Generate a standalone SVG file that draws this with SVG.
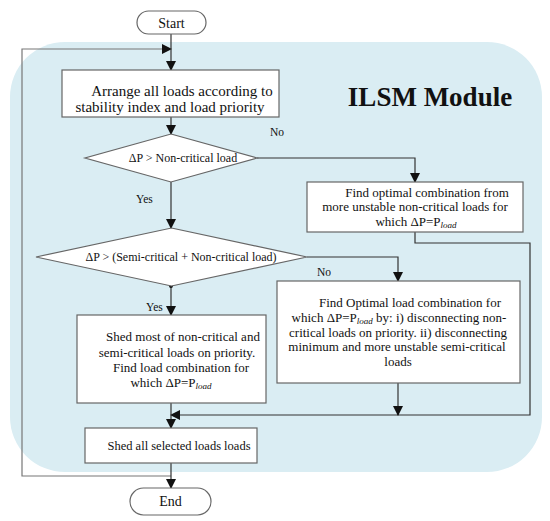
<svg xmlns="http://www.w3.org/2000/svg" width="550" height="521" viewBox="0 0 550 521">
<defs>
<marker id="ah" markerWidth="10" markerHeight="10" refX="9" refY="5" orient="auto" markerUnits="userSpaceOnUse">
<path d="M0,0 L10,5 L0,10 Z" fill="#111"/>
</marker>
<style>
.t{font-family:"Liberation Serif","Times New Roman",serif;fill:#111}
.box{fill:#fff;stroke:#666;stroke-width:1.2}
.ln{fill:none;stroke:#333;stroke-width:1.2}
.lp{fill:none;stroke:#777;stroke-width:1.2}
.sub{font-style:italic;font-size:9px}
</style>
</defs>
<rect x="10" y="42" width="532" height="430" rx="55" ry="55" fill="#daedf3"/>
<text class="t" x="430" y="106" font-size="27" font-weight="bold" text-anchor="middle">ILSM Module</text>

<g id="connectors">
<polyline class="lp" points="171,476 22,476 22,49 171,49" marker-end="url(#ah)"/>
<line class="ln" x1="171" y1="34" x2="171" y2="70" marker-end="url(#ah)"/>
<line class="ln" x1="171" y1="117" x2="171" y2="134" marker-end="url(#ah)"/>
<polyline class="ln" points="257,158 415,158 415,182" marker-end="url(#ah)"/>
<line class="ln" x1="171" y1="182" x2="171" y2="228" marker-end="url(#ah)"/>
<polyline class="ln" points="307,257 398,257 398,281" marker-end="url(#ah)"/>
<line class="ln" x1="171" y1="286" x2="171" y2="315" marker-end="url(#ah)"/>
<circle cx="171" cy="286" r="2" fill="#111"/>
<polyline class="ln" points="415,232 415,243 530,243 530,415 171,415" marker-end="url(#ah)"/>
<line class="ln" x1="398" y1="383" x2="398" y2="415" marker-end="url(#ah)"/>
<line class="ln" x1="171" y1="403" x2="171" y2="428" marker-end="url(#ah)"/>
<line class="ln" x1="171" y1="463" x2="171" y2="488" marker-end="url(#ah)"/>
<text class="t" x="270" y="136" font-size="11.5">No</text>
<text class="t" x="136" y="203" font-size="11.5">Yes</text>
<text class="t" x="317" y="276" font-size="11.5">No</text>
<text class="t" x="146" y="311" font-size="11.5">Yes</text>
</g>

<g id="start">
<rect x="137" y="11" width="69" height="23" rx="11.5" ry="11.5" class="box" stroke="#333"/>
<text class="t" x="171.5" y="28" font-size="14" text-anchor="middle">Start</text>
</g>

<g id="arrange">
<rect x="62" y="70" width="217" height="47" class="box"/>
<text class="t" x="182" y="96" font-size="15" text-anchor="middle">Arrange all loads according to</text>
<text class="t" x="170" y="112" font-size="15" text-anchor="middle">stability index and load priority</text>
</g>

<g id="decision1">
<polygon points="171,134 257,158 171,182 85,158" class="box"/>
<text class="t" x="183" y="162" font-size="12" text-anchor="middle">ΔP &gt; Non-critical load</text>
</g>

<g id="find-optimal">
<rect x="307" y="182" width="216" height="50" class="box"/>
<text class="t" x="427" y="197" font-size="13" text-anchor="middle">Find optimal combination from</text>
<text class="t" x="415" y="211" font-size="13" text-anchor="middle">more unstable non-critical loads for</text>
<text class="t" x="416" y="226" font-size="13" text-anchor="middle">which ΔP=P<tspan class="sub" dy="2">load</tspan></text>
</g>

<g id="decision2">
<polygon points="171.5,228 307,257 171.5,286 36,257" class="box"/>
<text class="t" x="181" y="261" font-size="12" text-anchor="middle">ΔP &gt; (Semi-critical + Non-critical load)</text>
</g>

<g id="find-optimal-load">
<rect x="277" y="281" width="243" height="102" class="box"/>
<text class="t" x="410" y="307" font-size="13" text-anchor="middle">Find Optimal load combination for</text>
<text class="t" x="399" y="322" font-size="13" text-anchor="middle">which ΔP=P<tspan class="sub" dy="2">load</tspan><tspan dy="-2"> by: i) disconnecting non-</tspan></text>
<text class="t" x="398" y="337" font-size="13" text-anchor="middle">critical loads on priority. ii) disconnecting</text>
<text class="t" x="397" y="351" font-size="13" text-anchor="middle">minimum and more unstable semi-critical</text>
<text class="t" x="398" y="366" font-size="13" text-anchor="middle">loads</text>
</g>

<g id="shed-most">
<rect x="77" y="315" width="189" height="88" class="box"/>
<text class="t" x="183" y="341" font-size="13" text-anchor="middle">Shed most of non-critical and</text>
<text class="t" x="177" y="357" font-size="13" text-anchor="middle">semi-critical loads on priority.</text>
<text class="t" x="181" y="372" font-size="13" text-anchor="middle">Find load combination for</text>
<text class="t" x="171" y="387" font-size="13" text-anchor="middle">which ΔP=P<tspan class="sub" dy="2">load</tspan></text>
</g>

<g id="shed-all">
<rect x="85" y="428" width="172" height="35" class="box"/>
<text class="t" x="179" y="450" font-size="12.5" text-anchor="middle">Shed all selected loads loads</text>
</g>

<g id="end">
<rect x="130" y="488" width="81" height="27" rx="13.5" ry="13.5" class="box" stroke="#333"/>
<text class="t" x="170.5" y="506" font-size="14" text-anchor="middle">End</text>
</g>
</svg>
